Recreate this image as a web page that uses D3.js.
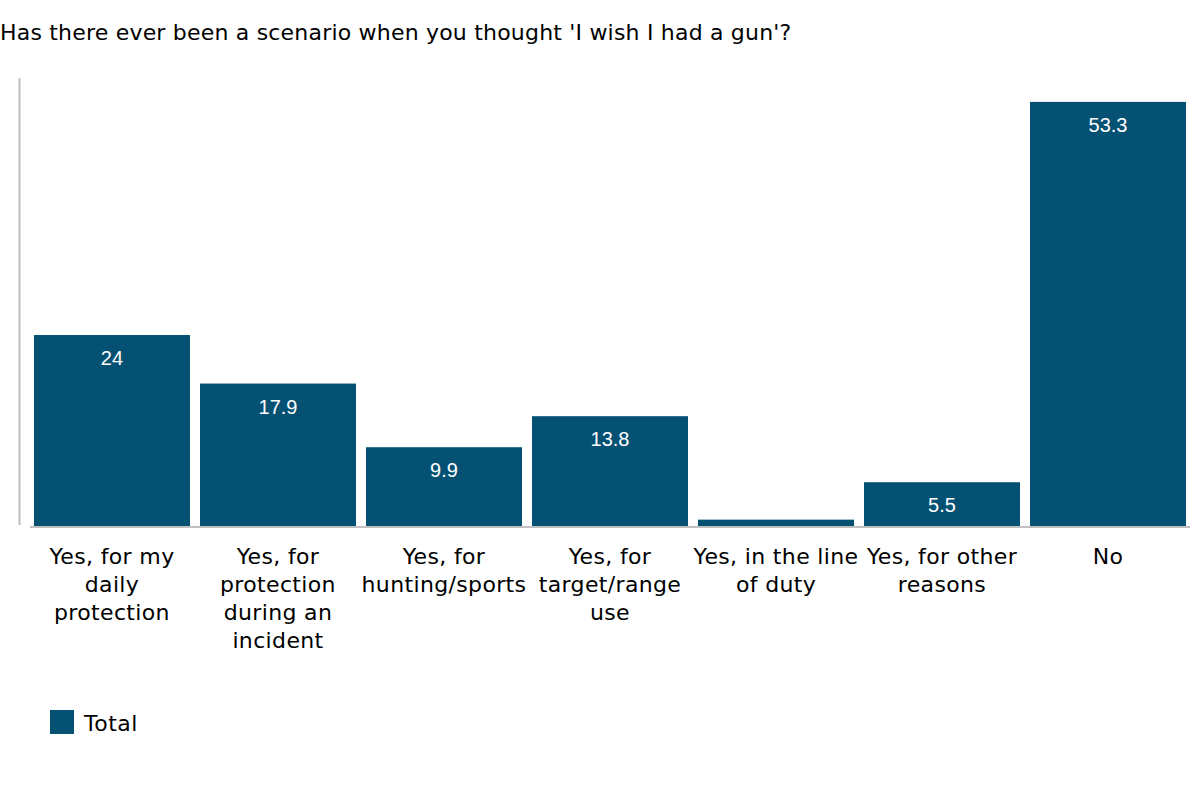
<!DOCTYPE html>
<html>
<head>
<meta charset="utf-8">
<script src="https://cdn.jsdelivr.net/npm/d3@7"></script>
<style>
  body { margin: 0; background: #fff; }
  svg { display: block; }
</style>
</head>
<body>
<svg id="chart" width="1200" height="800"></svg>
<script>
const titleText = "Has there ever been a scenario when you thought 'I wish I had a gun'?";
const categories = [
  ["Yes, for my", "daily", "protection"],
  ["Yes, for", "protection", "during an", "incident"],
  ["Yes, for", "hunting/sports"],
  ["Yes, for", "target/range", "use"],
  ["Yes, in the line", "of duty"],
  ["Yes, for other", "reasons"],
  ["No"]
];
const values = [24, 17.9, 9.9, 13.8, 0.8, 5.5, 53.3];
const valueLabels = ["24", "17.9", "9.9", "13.8", "", "5.5", "53.3"];
const seriesName = "Total";
const color = "#045174";

const svg = d3.select("#chart");
const idx = d3.range(values.length);

const x = d3.scaleBand().domain(idx).range([29, 1191]).paddingInner(10/166).paddingOuter(0.03);
const y = d3.scaleLinear().domain([0, 56.3]).range([526, 78]);

svg.append("text")
  .attr("x", 0).attr("y", 40)
  .attr("font-family", "DejaVu Sans, Verdana, sans-serif")
  .attr("font-size", 22)
  .attr("letter-spacing", 0.2)
  .attr("fill", "#000")
  .text(titleText);

// y axis line
svg.append("line")
  .attr("x1", 19.5).attr("x2", 19.5)
  .attr("y1", y.range()[1]).attr("y2", y(0) - 1)
  .attr("stroke", "#c0c0c0").attr("stroke-width", 2);

svg.selectAll("rect.bar").data(idx).join("rect")
  .attr("class", "bar")
  .attr("x", i => x(i))
  .attr("width", x.bandwidth())
  .attr("y", i => y(values[i]))
  .attr("height", i => y(0) - y(values[i]))
  .attr("fill", color);

// baseline
svg.append("line")
  .attr("x1", 30).attr("x2", 1190)
  .attr("y1", y(0) + 1).attr("y2", y(0) + 1)
  .attr("stroke", "#c0c0c0").attr("stroke-width", 2);

svg.selectAll("text.val").data(idx).join("text")
  .attr("class", "val")
  .attr("x", i => x(i) + x.bandwidth() / 2)
  .attr("y", i => y(values[i]) + 30)
  .attr("text-anchor", "middle")
  .attr("font-family", "Liberation Sans, Arial, sans-serif")
  .attr("font-size", 20)
  .attr("fill", "#fff")
  .text(i => valueLabels[i]);

const cat = svg.selectAll("text.cat").data(idx).join("text")
  .attr("class", "cat")
  .attr("text-anchor", "middle")
  .attr("font-family", "DejaVu Sans, Verdana, sans-serif")
  .attr("font-size", 22)
  .attr("letter-spacing", 0.35)
  .attr("fill", "#000");
cat.each(function(i) {
  const t = d3.select(this);
  categories[i].forEach((line, k) => {
    t.append("tspan")
      .attr("x", x(i) + x.bandwidth() / 2)
      .attr("y", 564 + k * 28)
      .text(line);
  });
});

// legend
svg.append("rect")
  .attr("x", 50).attr("y", 710).attr("width", 24).attr("height", 24)
  .attr("fill", color);
svg.append("text")
  .attr("x", 84).attr("y", 731)
  .attr("font-family", "DejaVu Sans, Verdana, sans-serif")
  .attr("font-size", 22)
  .attr("letter-spacing", 0.5)
  .attr("fill", "#000")
  .text(seriesName);
</script>
</body>
</html>
